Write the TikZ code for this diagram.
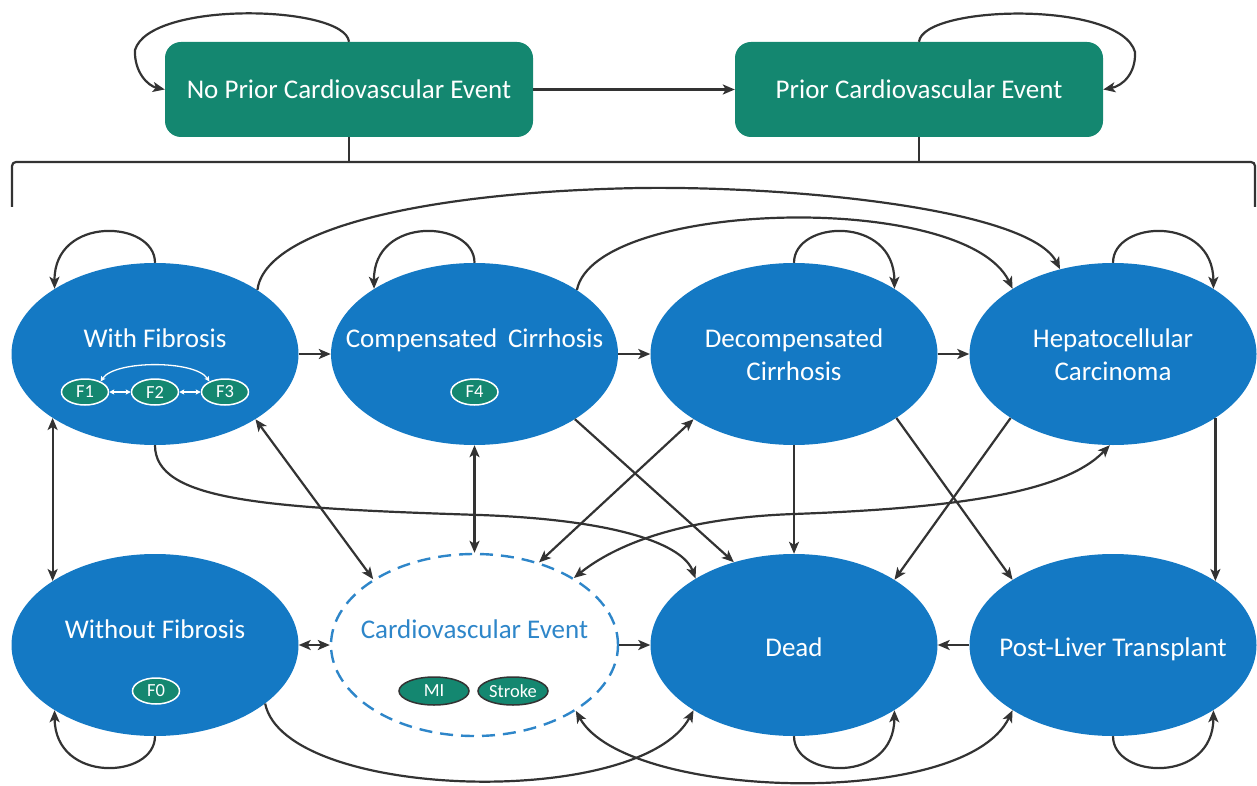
\documentclass[tikz,border=0pt]{standalone}
\usepackage{fontspec}
\setmainfont{Carlito}
\usetikzlibrary{shapes.geometric,arrows.meta}
\definecolor{myblue}{RGB}{20,121,196}
\definecolor{myteal}{RGB}{20,135,112}
\definecolor{mygray}{RGB}{51,51,51}
\definecolor{cvblue}{RGB}{46,134,201}
\tikzset{
  tipA/.tip={Stealth[length=12pt,width=10pt,inset=3pt]},
  tipW/.tip={Stealth[length=5pt,width=5pt,inset=1pt]},
  st/.style={ellipse, fill=myblue, minimum width=287pt, minimum height=182pt, inner sep=0pt},
  cvst/.style={ellipse, draw=cvblue, line width=2.4pt, dash pattern=on 13pt off 8pt, minimum width=287pt, minimum height=182pt, inner sep=0pt},
  lbl/.style={text=white, font=\fontsize{27}{33}\selectfont, align=center, inner sep=0pt},
  box/.style={rectangle, rounded corners=16pt, fill=myteal, minimum width=368pt, minimum height=95pt, text=white, font=\fontsize{27}{33}\selectfont, inner sep=0pt},
  sub/.style={ellipse, fill=myteal, draw=white, line width=1.5pt, minimum width=47pt, minimum height=26pt, inner sep=0pt, text=white, font=\fontsize{18.5}{20}\selectfont},
  subd/.style={sub, draw=mygray, minimum height=28pt, minimum width=70pt},
  conn/.style={draw=mygray, line width=2.2pt, -tipA},
  bi/.style={draw=mygray, line width=2.2pt, tipA-tipA},
  plain/.style={draw=mygray, line width=2.2pt, rounded corners=4pt},
  wbi/.style={draw=white, line width=1.3pt, tipW-tipW},
}
\begin{document}
\begin{tikzpicture}[x=1pt,y=-1pt]
\useasboundingbox (0,0) rectangle (1257,786);

% top boxes
\node[box] (np) at (349,89.5) {No Prior Cardiovascular Event};
\node[box] (pr) at (919,89.5) {Prior Cardiovascular Event};

% bracket
\coordinate (bl) at (12,207);
\coordinate (blt) at (12,162);
\coordinate (brt) at (1255,162);
\coordinate (br) at (1255,207);
\coordinate (bm1) at (349,162);
\coordinate (bm2) at (919,162);
\draw[plain] (bl) -- (blt) -- (brt) -- (br);
\draw[plain] (np.south) -- (bm1);
\draw[plain] (pr.south) -- (bm2);

\draw[conn] (np.east) -- (pr.west);
\draw[conn] (np.north) .. controls (345,5) and (150,0) .. (135,50) .. controls (134,72) and (148,86) .. (np.west);
\draw[conn] (pr.north) .. controls (923,5) and (1120,0) .. (1135,52) .. controls (1136,74) and (1122,86) .. (pr.east);

% states
\node[st] (wf) at (155,354) {};
\node[st] (cc) at (474.5,354) {};
\node[st] (dc) at (794,354) {};
\node[st] (hc) at (1113,354) {};
\node[st] (wo) at (155,645) {};
\node[cvst] (cv) at (474.5,645) {};
\node[st] (de) at (794,645) {};
\node[st] (pt) at (1113,645) {};

\node[lbl, anchor=base] (wft) at (155,347) {With Fibrosis};
\node[lbl, anchor=base] (cct) at (474.5,347) {Compensated\, Cirrhosis};
\node[lbl] (dct) at (794,355) {Decompensated\\Cirrhosis};
\node[lbl] (hct) at (1113,355) {Hepatocellular\\Carcinoma};
\node[lbl, anchor=base] (wot) at (155,638) {Without Fibrosis};
\node[lbl, anchor=base, text=cvblue] (cvt) at (474.5,638) {Cardiovascular Event};
\node[lbl, anchor=base] (det) at (794,656) {Dead};
\node[lbl, anchor=base] (ptt) at (1113,656) {Post-Liver Transplant};

% sub states
\node[sub] (f1) at (85,392) {F1};
\node[sub] (f2) at (155,392) {F2};
\node[sub] (f3) at (225,392) {F3};
\node[sub] (f4) at (474.5,392) {F4};
\node[sub] (f0) at (156,691) {F0};
\node[subd] (mi) at (434,691) {MI};
\node[subd] (stroke) at (513,691) {Stroke};
\draw[wbi] (f1.east) -- (f2.west);
\draw[wbi] (f2.east) -- (f3.west);
\draw[wbi] (f1.34) .. controls (115,360) and (195,360) .. (f3.146);

% self loops
\draw[conn] (wf.north) .. controls (155,220) and (54,215) .. (wf.147);
\draw[conn] (cc.north) .. controls (474.5,220) and (373,215) .. (cc.147);
\draw[conn] (dc.north) .. controls (794,220) and (894,215) .. (dc.33);
\draw[conn] (hc.north) .. controls (1113,220) and (1213,215) .. (hc.33);
\draw[conn] (wo.south) .. controls (155,779) and (55,784) .. (wo.-147);
\draw[conn] (de.south) .. controls (794,779) and (894,784) .. (de.-33);
\draw[conn] (pt.south) .. controls (1113,779) and (1213,784) .. (pt.-33);

% horizontal
\draw[conn] (wf.east) -- (cc.west);
\draw[conn] (cc.east) -- (dc.west);
\draw[conn] (dc.east) -- (hc.west);
\draw[bi] (wo.east) -- (cv.west);
\draw[conn] (cv.east) -- (de.west);
\draw[conn] (pt.west) -- (de.east);

% vertical
\draw[bi] (wf.-148) -- (wo.148);
\draw[bi] (cc.south) -- (cv.north);
\draw[conn] (dc.south) -- (de.north);
\draw[conn] (hc.-32) -- (pt.32);

% diagonal
\draw[bi] (wf.-33) -- (cv.147);
\draw[conn] (cc.-33) -- (de.126);
\draw[bi] (cv.52) -- (dc.-147);
\draw[conn] (dc.-32) -- (pt.147);
\draw[conn] (hc.-148) -- (de.33);

% middle curves
\draw[conn] (wf.south) .. controls (155,500) and (260,508) .. (480,515) .. controls (620,520) and (683,545) .. (de.146);
\draw[bi] (cv.34) .. controls (615,545) and (680,518) .. (794,514) .. controls (960,508) and (1065,492) .. (hc.-92);

% bottom curves
\draw[conn] (wo.-28) .. controls (285,800) and (640,810) .. (de.-147);
\draw[bi] (cv.-33) .. controls (625,800) and (965,810) .. (pt.-147);

% top arcs
\draw[conn] (wf.32) .. controls (265,230) and (420,192) .. (640,188) .. controls (800,186) and (1030,210) .. (hc.122);
\draw[conn] (cc.32) .. controls (595,200) and (965,190) .. (hc.147);
\end{tikzpicture}
\end{document}
